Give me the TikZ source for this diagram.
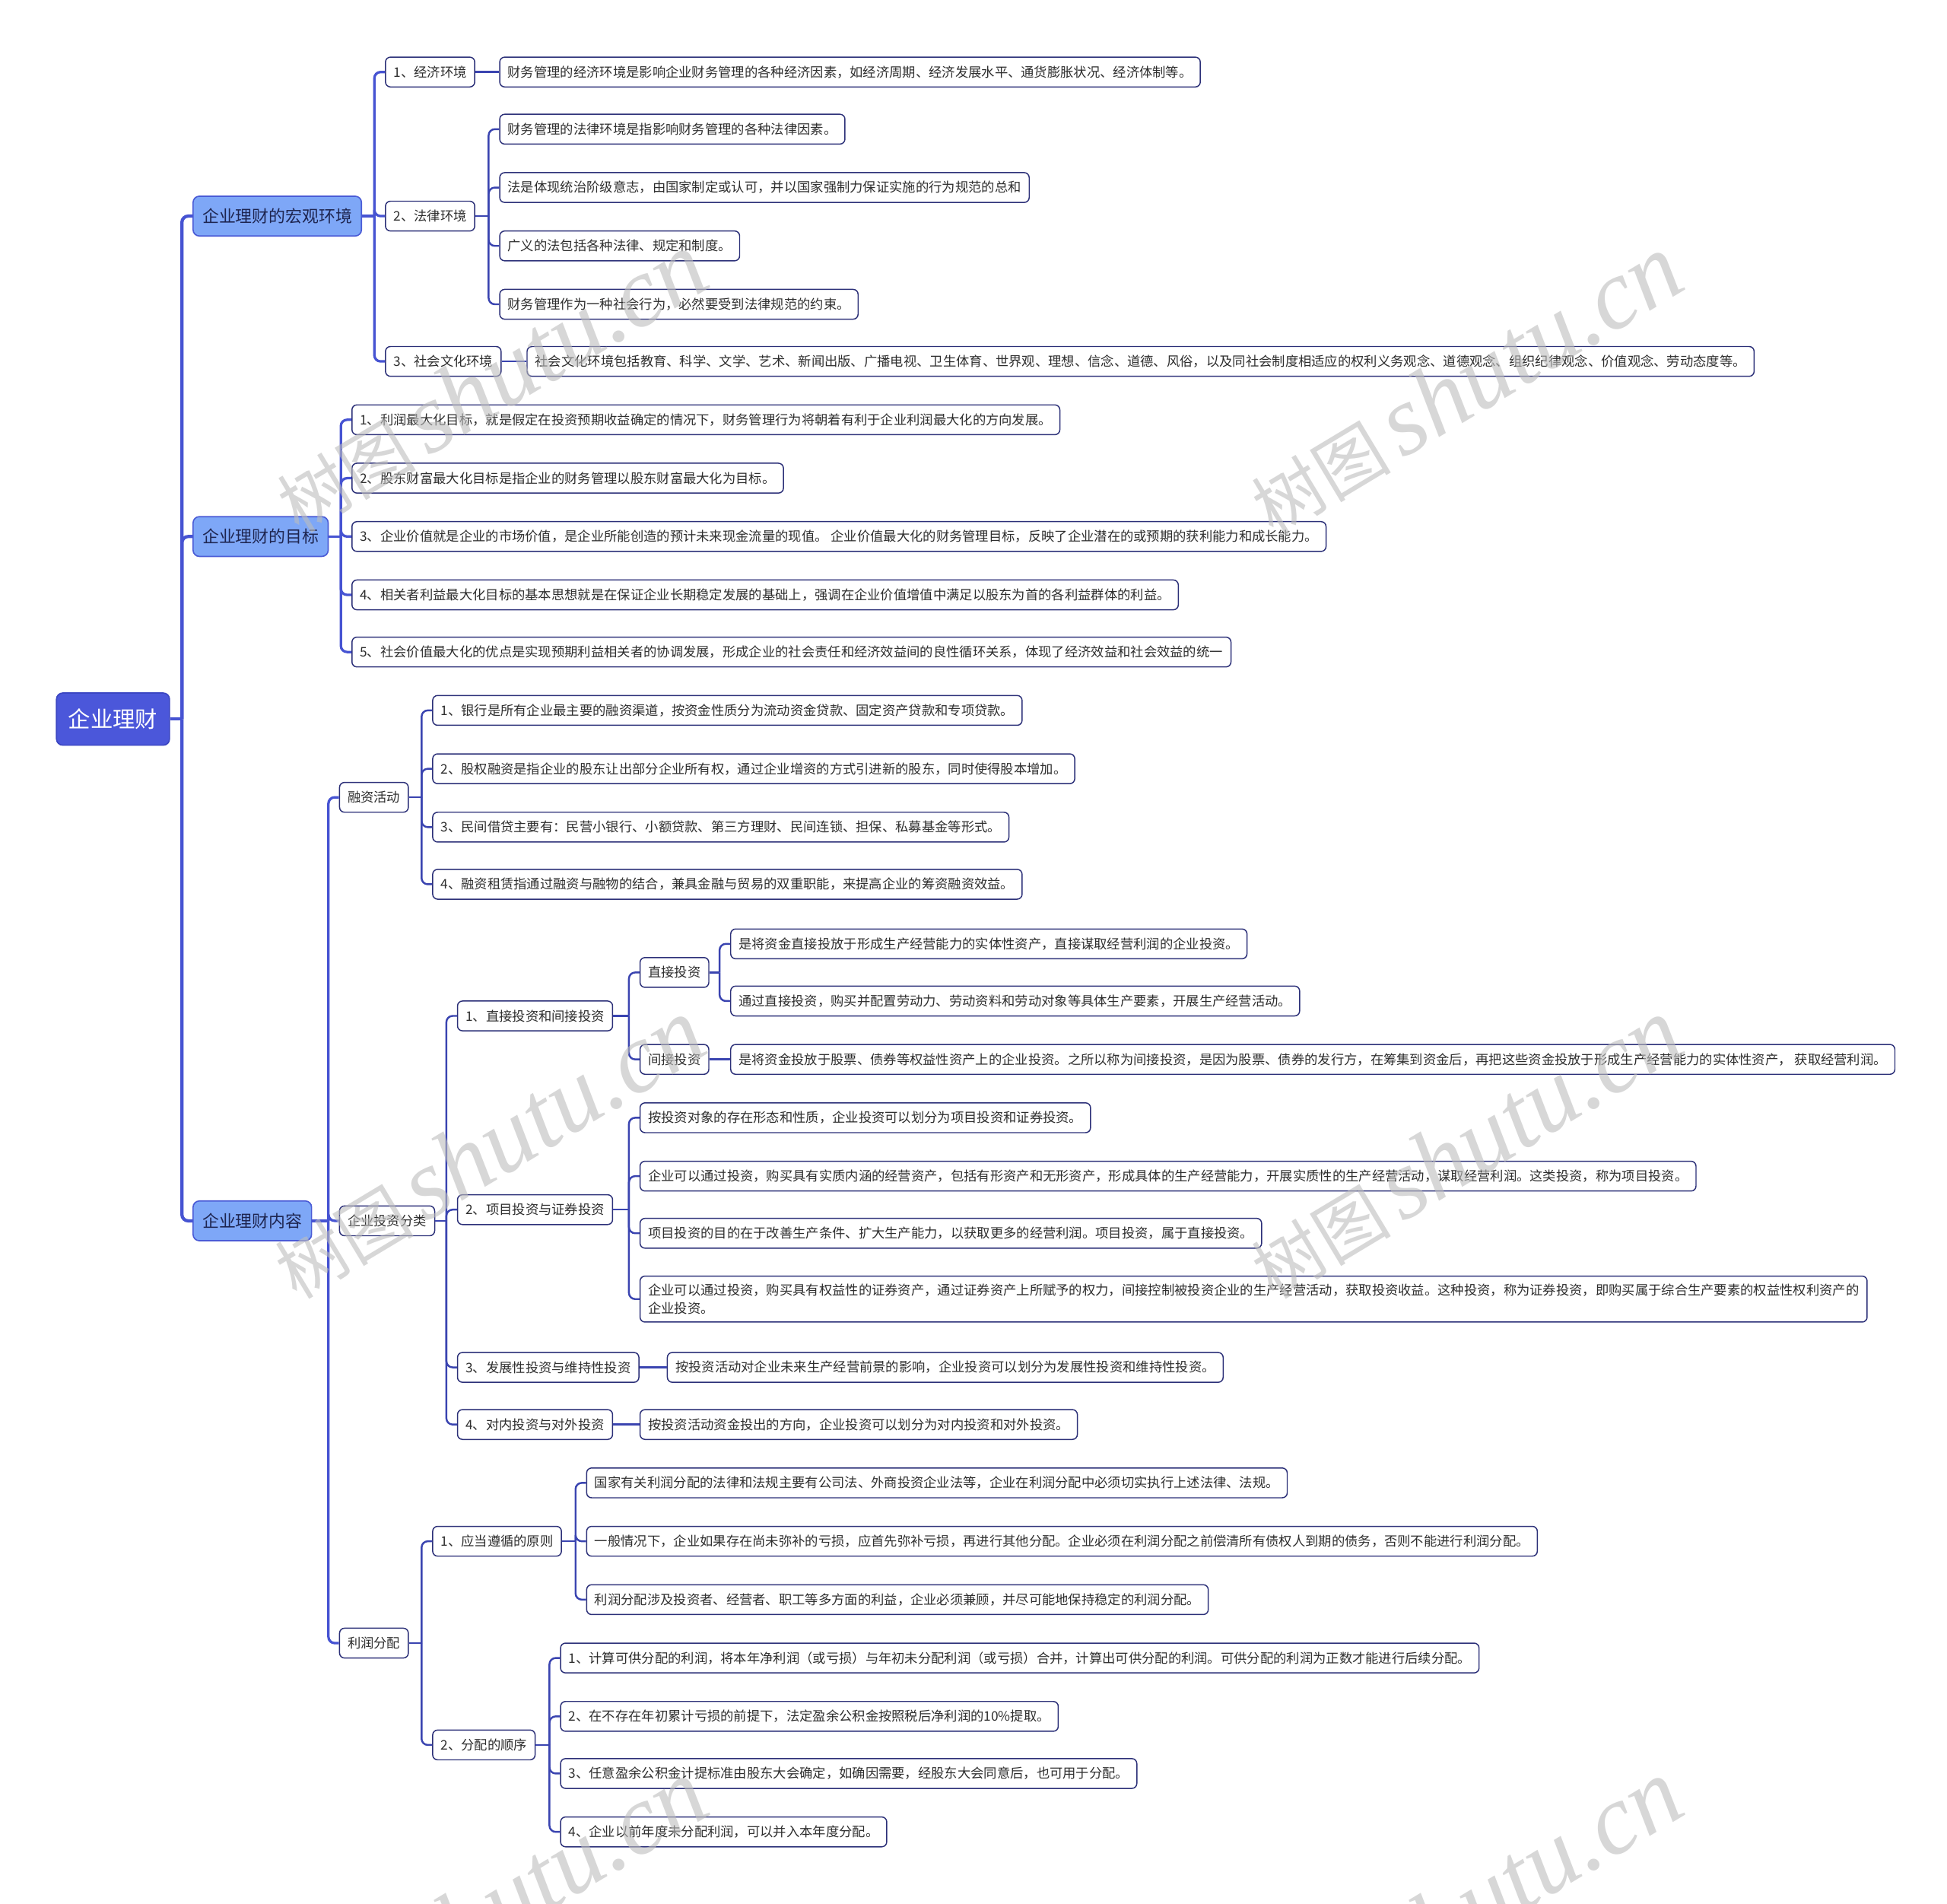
\documentclass[tikz,border=0pt]{standalone}
\usepackage{fontspec}
\setmainfont{Noto Sans CJK SC}
\newfontfamily\wmlat{Liberation Serif}
\definecolor{rootfill}{HTML}{4B57DA}
\definecolor{rootbd}{HTML}{3B46C2}
\definecolor{l1fill}{HTML}{7EA7F7}
\definecolor{l1bd}{HTML}{4A5BD6}
\definecolor{l1txt}{HTML}{1E2550}
\definecolor{leafc}{HTML}{2C3078}
\definecolor{txtc}{HTML}{2E2E2E}
\definecolor{trc}{HTML}{4653D2}
\definecolor{lnc}{HTML}{3A44B0}
\definecolor{wmc}{HTML}{BDBDBD}
\tikzset{
  conn/.style={draw=lnc, line width=1.5pt},
  conntwo/.style={draw=trc, line width=2pt},
  trunk/.style={draw=trc, line width=2.6pt},
  leaf/.style={draw=leafc, fill=white, rounded corners=4pt, line width=0.9pt, inner xsep=6.5pt, inner ysep=0pt, minimum height=24pt, text=txtc, font=\fontsize{10.6}{14.5}\selectfont, anchor=west},
  lone/.style={draw=l1bd, fill=l1fill, rounded corners=5pt, line width=1pt, inner xsep=7.5pt, inner ysep=0pt, minimum height=32pt, text=l1txt, font=\fontsize{13.4}{16}\selectfont, anchor=west},
  rootbox/.style={draw=rootbd, fill=rootfill, rounded corners=5pt, line width=1pt, inner xsep=9.5pt, inner ysep=0pt, minimum height=42pt, text=white, font=\fontsize{18}{21}\selectfont, anchor=west},
  wm/.style={text=wmc, opacity=0.6, rotate=31, inner sep=0pt}
}
\newcommand\link[3][conn]{%
  \path (#3.west) ++(-8.5,0) coordinate (spt);
  \draw[#1] (#2.east) -- (spt |- #2.east);
  \draw[#1,rounded corners=5pt] (spt |- #2.east) |- (#3.west);}
\newcommand\direct[3][conn]{\draw[#1] (#2.east) -- (#3.west);}
\begin{document}
\begin{tikzpicture}[x=1pt,y=-1pt]
\fill[white] (0,0) rectangle (1568,1533);
\useasboundingbox (0,0) rectangle (1568,1533);

% root and level 1
\node[rootbox] (root) at (45,579) {企业理财};
\node[lone] (m) at (155,174) {企业理财的宏观环境};
\node[lone] (g) at (155,432) {企业理财的目标};
\node[lone] (c) at (155,983) {企业理财内容};

% macro environment
\node[leaf] (m1) at (310,58) {1、经济环境};
\node[leaf] (m2) at (310,174) {2、法律环境};
\node[leaf] (m3) at (310,291) {3、社会文化环境};
\node[leaf] (m1a) at (402,58) {财务管理的经济环境是影响企业财务管理的各种经济因素，如经济周期、经济发展水平、通货膨胀状况、经济体制等。};
\node[leaf] (m2a) at (402,104) {财务管理的法律环境是指影响财务管理的各种法律因素。};
\node[leaf] (m2b) at (402,151) {法是体现统治阶级意志，由国家制定或认可，并以国家强制力保证实施的行为规范的总和};
\node[leaf] (m2c) at (402,198) {广义的法包括各种法律、规定和制度。};
\node[leaf] (m2d) at (402,245) {财务管理作为一种社会行为，必然要受到法律规范的约束。};
\node[leaf] (m3a) at (424,291) {社会文化环境包括教育、科学、文学、艺术、新闻出版、广播电视、卫生体育、世界观、理想、信念、道德、风俗，以及同社会制度相适应的权利义务观念、道德观念、组织纪律观念、价值观念、劳动态度等。};

% goals
\node[leaf] (g1) at (283,338) {1、利润最大化目标，就是假定在投资预期收益确定的情况下，财务管理行为将朝着有利于企业利润最大化的方向发展。};
\node[leaf] (g2) at (283,385) {2、股东财富最大化目标是指企业的财务管理以股东财富最大化为目标。};
\node[leaf] (g3) at (283,432) {3、企业价值就是企业的市场价值，是企业所能创造的预计未来现金流量的现值。 企业价值最大化的财务管理目标，反映了企业潜在的或预期的获利能力和成长能力。};
\node[leaf] (g4) at (283,479) {4、相关者利益最大化目标的基本思想就是在保证企业长期稳定发展的基础上，强调在企业价值增值中满足以股东为首的各利益群体的利益。};
\node[leaf] (g5) at (283,525) {5、社会价值最大化的优点是实现预期利益相关者的协调发展，形成企业的社会责任和经济效益间的良性循环关系，体现了经济效益和社会效益的统一};

% content
\node[leaf] (c1) at (273,642) {融资活动};
\node[leaf] (c2) at (273,983) {企业投资分类};
\node[leaf] (c3) at (273,1323) {利润分配};

\node[leaf] (f1) at (348,572) {1、银行是所有企业最主要的融资渠道，按资金性质分为流动资金贷款、固定资产贷款和专项贷款。};
\node[leaf] (f2) at (348,619) {2、股权融资是指企业的股东让出部分企业所有权，通过企业增资的方式引进新的股东，同时使得股本增加。};
\node[leaf] (f3) at (348,666) {3、民间借贷主要有：民营小银行、小额贷款、第三方理财、民间连锁、担保、私募基金等形式。};
\node[leaf] (f4) at (348,712) {4、融资租赁指通过融资与融物的结合，兼具金融与贸易的双重职能，来提高企业的筹资融资效益。};

\node[leaf] (i1) at (368,818) {1、直接投资和间接投资};
\node[leaf] (i2) at (368,974) {2、项目投资与证券投资};
\node[leaf] (i3) at (368,1101) {3、发展性投资与维持性投资};
\node[leaf] (i4) at (368,1147) {4、对内投资与对外投资};

\node[leaf] (d1) at (515,783) {直接投资};
\node[leaf] (d2) at (515,853) {间接投资};
\node[leaf] (d1a) at (588,760) {是将资金直接投放于形成生产经营能力的实体性资产，直接谋取经营利润的企业投资。};
\node[leaf] (d1b) at (588,806) {通过直接投资，购买并配置劳动力、劳动资料和劳动对象等具体生产要素，开展生产经营活动。};
\node[leaf] (d2a) at (588,853) {是将资金投放于股票、债券等权益性资产上的企业投资。之所以称为间接投资，是因为股票、债券的发行方，在筹集到资金后，再把这些资金投放于形成生产经营能力的实体性资产， 获取经营利润。};

\node[leaf] (p1) at (515,900) {按投资对象的存在形态和性质，企业投资可以划分为项目投资和证券投资。};
\node[leaf] (p2) at (515,947) {企业可以通过投资，购买具有实质内涵的经营资产，包括有形资产和无形资产，形成具体的生产经营能力，开展实质性的生产经营活动，谋取经营利润。这类投资，称为项目投资。};
\node[leaf] (p3) at (515,993) {项目投资的目的在于改善生产条件、扩大生产能力，以获取更多的经营利润。项目投资，属于直接投资。};
\node[leaf, align=left, minimum height=37pt] (p4) at (515,1046) {企业可以通过投资，购买具有权益性的证券资产，通过证券资产上所赋予的权力，间接控制被投资企业的生产经营活动，获取投资收益。这种投资，称为证券投资，即购买属于综合生产要素的权益性权利资产的\\企业投资。};

\node[leaf] (i3a) at (537,1101) {按投资活动对企业未来生产经营前景的影响，企业投资可以划分为发展性投资和维持性投资。};
\node[leaf] (i4a) at (515,1147) {按投资活动资金投出的方向，企业投资可以划分为对内投资和对外投资。};

\node[leaf] (r1) at (348,1241) {1、应当遵循的原则};
\node[leaf] (r2) at (348,1405) {2、分配的顺序};
\node[leaf] (r1a) at (472,1194) {国家有关利润分配的法律和法规主要有公司法、外商投资企业法等，企业在利润分配中必须切实执行上述法律、法规。};
\node[leaf] (r1b) at (472,1241) {一般情况下，企业如果存在尚未弥补的亏损，应首先弥补亏损，再进行其他分配。企业必须在利润分配之前偿清所有债权人到期的债务，否则不能进行利润分配。};
\node[leaf] (r1c) at (472,1288) {利润分配涉及投资者、经营者、职工等多方面的利益，企业必须兼顾，并尽可能地保持稳定的利润分配。};
\node[leaf] (r2a) at (451,1335) {1、计算可供分配的利润，将本年净利润（或亏损）与年初未分配利润（或亏损）合并，计算出可供分配的利润。可供分配的利润为正数才能进行后续分配。};
\node[leaf] (r2b) at (451,1382) {2、在不存在年初累计亏损的前提下，法定盈余公积金按照税后净利润的10\%提取。};
\node[leaf] (r2c) at (451,1428) {3、任意盈余公积金计提标准由股东大会确定，如确因需要，经股东大会同意后，也可用于分配。};
\node[leaf] (r2d) at (451,1475) {4、企业以前年度未分配利润，可以并入本年度分配。};

% connectors
\foreach \ch in {m,g,c} {\link[trunk]{root}{\ch}}
\foreach \ch in {m1,m2,m3} {\link[conntwo]{m}{\ch}}
\foreach \ch in {g1,g2,g3,g4,g5} {\link[conntwo]{g}{\ch}}
\foreach \ch in {c1,c2,c3} {\link[conntwo]{c}{\ch}}
\direct{m1}{m1a}
\foreach \ch in {m2a,m2b,m2c,m2d} {\link{m2}{\ch}}
\direct{m3}{m3a}
\foreach \ch in {f1,f2,f3,f4} {\link{c1}{\ch}}
\foreach \ch in {i1,i2,i3,i4} {\link{c2}{\ch}}
\foreach \ch in {d1,d2} {\link{i1}{\ch}}
\foreach \ch in {d1a,d1b} {\link{d1}{\ch}}
\direct{d2}{d2a}
\foreach \ch in {p1,p2,p3,p4} {\link{i2}{\ch}}
\direct{i3}{i3a}
\direct{i4}{i4a}
\foreach \ch in {r1,r2} {\link{c3}{\ch}}
\foreach \ch in {r1a,r1b,r1c} {\link{r1}{\ch}}
\foreach \ch in {r2a,r2b,r2c,r2d} {\link{r2}{\ch}}

% watermarks
\foreach \wx/\wy [count=\k] in {395/308, 1180/310, 393/925, 1180/925, 395/1538, 1180/1538} {
  \node[wm] (wm\k) at (\wx,\wy) {\fontsize{56}{60}\selectfont 树图\,{\wmlat\itshape\fontsize{80}{84}\selectfont shutu.cn}};
}
\end{tikzpicture}
\end{document}
